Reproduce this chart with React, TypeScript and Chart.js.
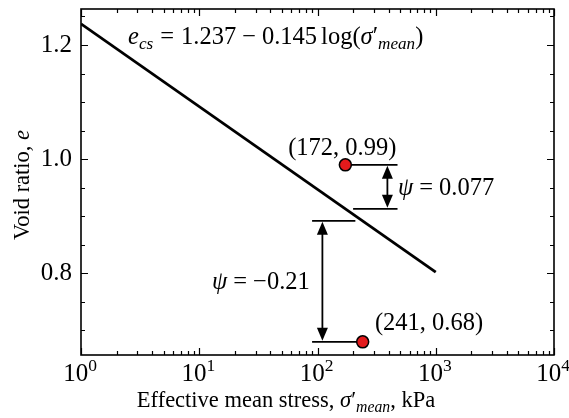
import React, { useEffect, useRef } from 'react';
import { Chart, registerables } from 'chart.js';

Chart.register(...registerables);

// ---- data ----
const csLineStress = [1, 1000];
const csLineVoid = [1.237, 0.802];

const sampleStress = [172, 241];
const sampleVoid = [0.99, 0.68];

// horizontal reference segments (stress from, stress to, void ratio)
const refFrom = [172, 200, 90, 90];
const refTo = [475, 475, 241, 209];
const refVoid = [0.99, 0.913, 0.68, 0.892];

// double-headed arrows (stress, void from, void to)
const arrowStress = [390, 110];
const arrowFrom = [0.913, 0.892];
const arrowTo = [0.99, 0.68];

const xTickValues = [
  1, 2, 3, 4, 5, 6, 7, 8, 9,
  10, 20, 30, 40, 50, 60, 70, 80, 90,
  100, 200, 300, 400, 500, 600, 700, 800, 900,
  1000, 2000, 3000, 4000, 5000, 6000, 7000, 8000, 9000,
  10000,
];
const xMajorTicks = [1, 10, 100, 1000, 10000];
const xTickExponents = ['0', '1', '2', '3', '4'];

const yTickValues = [0.7, 0.75, 0.8, 0.85, 0.9, 0.95, 1.0, 1.05, 1.1, 1.15, 1.2, 1.25];
const yMajorTicks = [0.8, 1.0, 1.2];
const yTickLabels = ['0.8', '1.0', '1.2'];

const X_MIN = 1, X_MAX = 10000, Y_MIN = 0.657, Y_MAX = 1.263;

const FONT = '"Liberation Serif", "DejaVu Serif", serif';

type Seg = { t?: string; it?: boolean; sub?: boolean; sup?: boolean; gap?: number };

const formulaText: Seg[] = [
  { t: 'e', it: true }, { t: 'cs', it: true, sub: true },
  { gap: 7 }, { t: '=' }, { gap: 7 }, { t: '1.237' }, { gap: 6 }, { t: '−' }, { gap: 6 },
  { t: '0.145' }, { gap: 4 }, { t: 'log(' }, { t: 'σ', it: true }, { t: '′' },
  { t: 'mean', it: true, sub: true }, { t: ')' },
];
const xTitle: Seg[] = [
  { t: 'Effective mean stress, ' }, { t: 'σ', it: true }, { t: '′' },
  { t: 'mean', it: true, sub: true }, { t: ', kPa' },
];
const yTitle: Seg[] = [{ t: 'Void ratio, ' }, { t: 'e', it: true }];

// annotation anchors in data coordinates
const annotations: { segs: Seg[]; x: number; y: number; align: 'left' | 'center' | 'right' }[] = [
  { segs: formulaText, x: 2.5, y: 1.216, align: 'left' },
  { segs: [{ t: '(172, 0.99)' }], x: 162, y: 1.021, align: 'center' },
  { segs: [{ t: 'ψ', it: true }, { gap: 6 }, { t: '=' }, { gap: 6 }, { t: '0.077' }], x: 480, y: 0.951, align: 'left' },
  { segs: [{ t: 'ψ', it: true }, { gap: 6 }, { t: '=' }, { gap: 6 }, { t: '−0.21' }], x: 86, y: 0.787, align: 'right' },
  { segs: [{ t: '(241, 0.68)' }], x: 306, y: 0.715, align: 'left' },
];

const SIZE = 24.5;

function segFont(s: Seg, size: number) {
  const sz = s.sub || s.sup ? size * 0.7 : size;
  return `${s.it ? 'italic ' : ''}${sz}px ${FONT}`;
}

function segWidth(ctx: CanvasRenderingContext2D, s: Seg, size: number) {
  if (s.gap !== undefined) return s.gap;
  ctx.font = segFont(s, size);
  return ctx.measureText(s.t || '').width;
}

function drawRich(
  ctx: CanvasRenderingContext2D, segs: Seg[], x: number, cy: number, size: number,
  align: 'left' | 'center' | 'right',
) {
  let w = 0;
  for (const s of segs) w += segWidth(ctx, s, size);
  let cx = align === 'left' ? x : align === 'center' ? x - w / 2 : x - w;
  const base = cy + size * 0.33;
  ctx.textAlign = 'left';
  ctx.textBaseline = 'alphabetic';
  ctx.fillStyle = '#000';
  for (const s of segs) {
    const sw = segWidth(ctx, s, size);
    if (s.t) {
      ctx.font = segFont(s, size);
      const dy = s.sub ? size * 0.22 : s.sup ? -size * 0.42 : 0;
      ctx.fillText(s.t, cx, base + dy);
    }
    cx += sw;
  }
}

const decorPlugin = {
  id: 'decor',
  afterDatasetsDraw(chart: any) {
    const ctx: CanvasRenderingContext2D = chart.ctx;
    const xs = chart.scales.x;
    const ys = chart.scales.y;
    ctx.save();

    // arrows
    ctx.strokeStyle = '#000';
    ctx.fillStyle = '#000';
    for (let i = 0; i < arrowStress.length; i++) {
      const px = xs.getPixelForValue(arrowStress[i]);
      const y1 = ys.getPixelForValue(arrowFrom[i]);
      const y2 = ys.getPixelForValue(arrowTo[i]);
      const dir = Math.sign(y2 - y1);
      const head = 13, hw = 5.5;
      ctx.lineWidth = 1.8;
      ctx.beginPath();
      ctx.moveTo(px, y1 + dir * head);
      ctx.lineTo(px, y2 - dir * head);
      ctx.stroke();
      ctx.beginPath();
      ctx.moveTo(px, y1 + dir * 1);
      ctx.lineTo(px - hw, y1 + dir * (head + 1));
      ctx.lineTo(px + hw, y1 + dir * (head + 1));
      ctx.closePath();
      ctx.fill();
      ctx.beginPath();
      ctx.moveTo(px, y2 - dir * 1);
      ctx.lineTo(px - hw, y2 - dir * (head + 1));
      ctx.lineTo(px + hw, y2 - dir * (head + 1));
      ctx.closePath();
      ctx.fill();
    }

    // annotations
    for (const a of annotations) {
      drawRich(ctx, a.segs, xs.getPixelForValue(a.x), ys.getPixelForValue(a.y), SIZE, a.align);
    }
    ctx.restore();
  },
  afterDraw(chart: any) {
    const ctx: CanvasRenderingContext2D = chart.ctx;
    const xs = chart.scales.x;
    const ys = chart.scales.y;
    const { left, right, top, bottom } = chart.chartArea;
    ctx.save();
    ctx.strokeStyle = '#000';
    // ticks
    ctx.lineWidth = 1.2;
    ctx.beginPath();
    for (const t of xs.ticks) {
      const px = Math.round(xs.getPixelForValue(t.value)) + 0.5;
      if (px < left - 1 || px > right + 1) continue;
      const len = xMajorTicks.includes(t.value) ? 7 : 4;
      ctx.moveTo(px, bottom); ctx.lineTo(px, bottom - len);
      ctx.moveTo(px, top); ctx.lineTo(px, top + len);
    }
    for (const t of ys.ticks) {
      const py = Math.round(ys.getPixelForValue(t.value)) + 0.5;
      const len = yMajorTicks.some((v) => Math.abs(v - t.value) < 1e-9) ? 7 : 4;
      ctx.moveTo(left, py); ctx.lineTo(left + len, py);
      ctx.moveTo(right, py); ctx.lineTo(right - len, py);
    }
    ctx.stroke();
    // frame
    ctx.lineWidth = 1.6;
    ctx.strokeRect(left, top, right - left, bottom - top);

    // x tick labels (10^n)
    xMajorTicks.forEach((v, i) => {
      drawRich(ctx, [{ t: '10' }, { t: xTickExponents[i], sup: true }],
        xs.getPixelForValue(v) - 1, bottom + 18, 25, 'center');
    });

    // axis titles
    drawRich(ctx, xTitle, 286, 400, 22.5, 'center');
    ctx.translate(22, 185);
    ctx.rotate(-Math.PI / 2);
    drawRich(ctx, yTitle, 0, 0, 22.5, 'center');
    ctx.restore();
  },
};

const zeroPad = (scale: any) => {
  scale.paddingTop = 0;
  scale.paddingBottom = 0;
  scale.paddingLeft = 0;
  scale.paddingRight = 0;
};

export default function App() {
  const ref = useRef<HTMLCanvasElement | null>(null);
  useEffect(() => {
    document.body.style.margin = '0';
    const canvas = ref.current!;
    const refDatasets = refFrom.map((f, i) => ({
      type: 'line' as const,
      data: [{ x: f, y: refVoid[i] }, { x: refTo[i], y: refVoid[i] }],
      borderColor: '#000',
      borderWidth: 1.8,
      pointRadius: 0,
      order: 2,
    }));
    const chart = new Chart(canvas, {
      type: 'scatter',
      data: {
        datasets: [
          {
            type: 'scatter',
            data: sampleStress.map((s, i) => ({ x: s, y: sampleVoid[i] })),
            backgroundColor: '#e31a1c',
            borderColor: '#000',
            borderWidth: 1.5,
            pointRadius: 6,
            order: 0,
          },
          {
            type: 'line',
            data: csLineStress.map((s, i) => ({ x: s, y: csLineVoid[i] })),
            borderColor: '#000',
            borderWidth: 2.8,
            pointRadius: 0,
            order: 1,
          },
          ...refDatasets,
        ] as any,
      },
      options: {
        animation: false,
        responsive: false,
        devicePixelRatio: 1,
        layout: { padding: { top: 9, right: 15, left: 0, bottom: 0 } },
        plugins: { legend: { display: false }, tooltip: { enabled: false } },
        scales: {
          x: {
            type: 'logarithmic',
            min: X_MIN,
            max: X_MAX,
            grid: { display: false, drawTicks: false },
            border: { display: false },
            afterBuildTicks: (scale: any) => {
              scale.ticks = xTickValues.map((v) => ({ value: v, major: xMajorTicks.includes(v) }));
            },
            afterFit: (scale: any) => { scale.height = 63; zeroPad(scale); },
            ticks: {
              autoSkip: false,
              maxRotation: 0,
              padding: 4,
              color: '#000',
              font: { family: FONT, size: 23 },
              callback: () => '',
            },
          },
          y: {
            type: 'linear',
            min: Y_MIN,
            max: Y_MAX,
            grid: { display: false, drawTicks: false },
            border: { display: false },
            afterBuildTicks: (scale: any) => {
              scale.ticks = yTickValues.map((v) => ({ value: v }));
            },
            afterFit: (scale: any) => { scale.width = 81; zeroPad(scale); },
            ticks: {
              autoSkip: false,
              padding: 9,
              color: '#000',
              font: { family: FONT, size: 25 },
              callback: (v: any) => {
                const i = yMajorTicks.findIndex((m) => Math.abs(m - Number(v)) < 1e-9);
                return i >= 0 ? yTickLabels[i] : '';
              },
            },
          },
        },
      },
      plugins: [decorPlugin],
    });
    return () => chart.destroy();
  }, []);
  return (
    <div style={{ width: 569, height: 418 }}>
      <canvas ref={ref} width={569} height={418} style={{ display: 'block' }} />
    </div>
  );
}
